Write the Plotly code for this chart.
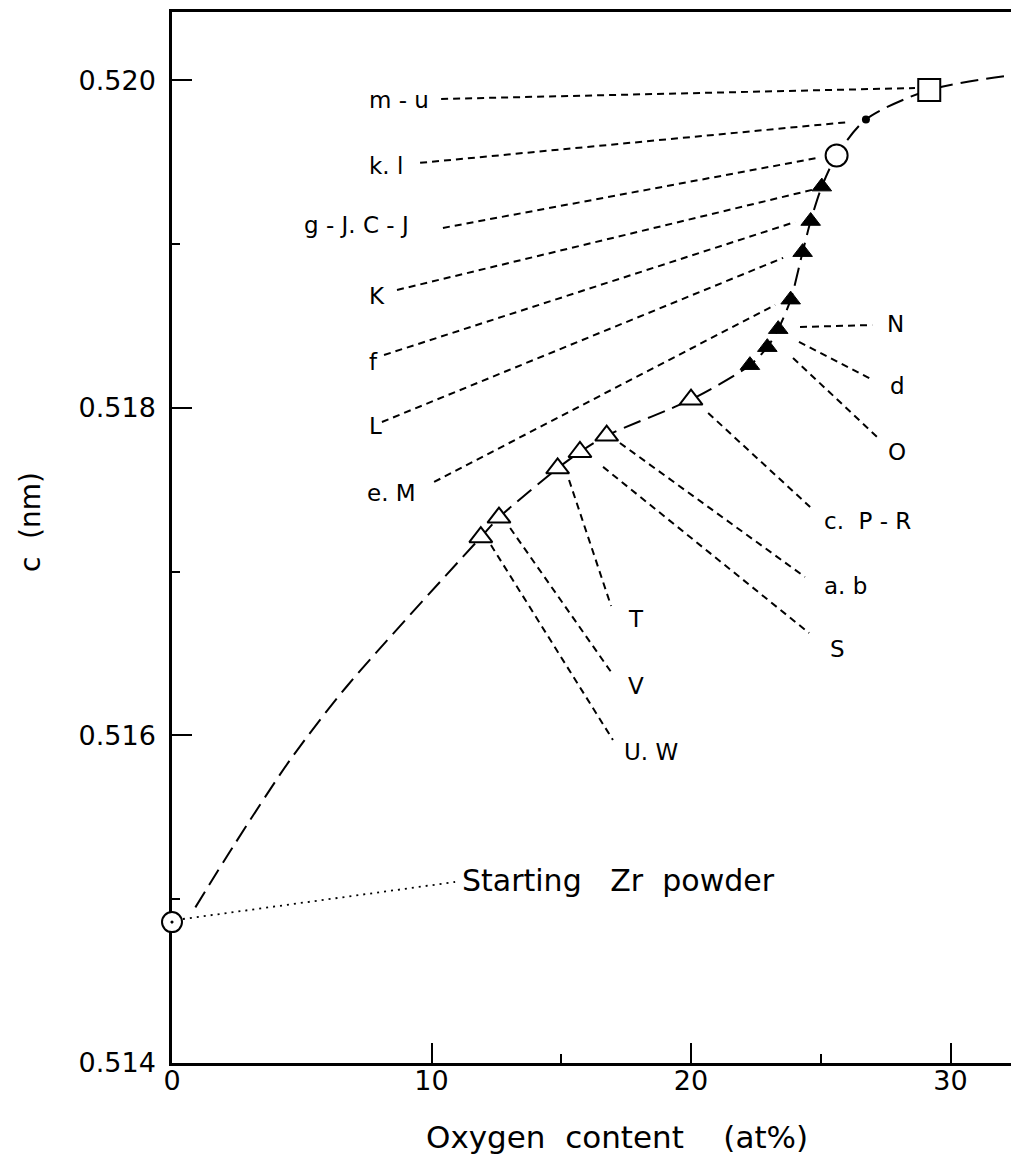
import plotly.graph_objects as go

# ---- data: oxygen content (at%) vs. lattice parameter c (nm) ----
start_x = [0.0]
start_c = [0.51486]

open_tri_x = [11.90, 12.60, 14.86, 15.72, 16.75, 20.00]
open_tri_c = [0.51721, 0.51733, 0.51763, 0.51773, 0.51783, 0.51805]

solid_tri_x = [22.27, 22.94, 23.36, 23.84, 24.30, 24.61, 25.04]
solid_tri_c = [0.51826, 0.51837, 0.51848, 0.51866, 0.51895, 0.51914, 0.51935]

ring_x = [25.61]
ring_c = [0.51954]

dot_x = [26.74]
dot_c = [0.51976]

square_x = [29.18]
square_c = [0.51994]

# extra points of the guide curve away from the markers
guide_head_x = [0.90, 2.35, 4.55, 6.74]
guide_head_c = [0.51495, 0.51532, 0.51585, 0.51630]
guide_tail_x = [32.33]
guide_tail_c = [0.52003]

x_tickvals = [0, 10, 20, 30]
x_ticktext = ["0", "10", "20", "30"]
c_tickvals = [0.514, 0.516, 0.518, 0.520]
c_ticktext = ["0.514", "0.516", "0.518", "0.520"]

# ---- label placement: text, leader start, leader end, text anchor ----
NB = "\u00a0"
labels = [
    ("m - u",                 (10.37, 0.519885), (28.63, 0.519952), (7.51, 0.519879), "left"),
    ("k. l",                  (9.56, 0.519495),  (26.13, 0.519745), (7.51, 0.519476), "left"),
    ("g - J. C - J",          (10.44, 0.519098), (24.86, 0.519525), (5.01, 0.519116), "left"),
    ("K",                     (8.67, 0.518719),  (24.66, 0.519330), (7.51, 0.518683), "left"),
    ("f",                     (8.17, 0.518322),  (24.01, 0.519134), (7.51, 0.518280), "left"),
    ("L",                     (8.09, 0.517913),  (23.55, 0.518915), (7.51, 0.517889), "left"),
    ("e. M",                  (10.10, 0.517547), (23.24, 0.518628), (7.44, 0.517480), "left"),
    ("N",                     (24.20, 0.518493), (26.98, 0.518505), (27.48, 0.518512), "left"),
    ("d",                     (24.16, 0.518402), (27.01, 0.518170), (27.59, 0.518133), "left"),
    ("O",                     (23.93, 0.518304), (27.17, 0.517822), (27.51, 0.517730), "left"),
    ("c." + NB + " P - R",    (20.66, 0.517968), (24.59, 0.517394), (25.05, 0.517309), "left"),
    ("a. b",                  (17.26, 0.517785), (24.39, 0.516967), (25.05, 0.516912), "left"),
    ("S",                     (16.61, 0.517639), (24.55, 0.516625), (25.28, 0.516527), "left"),
    ("T",                     (15.30, 0.517559), (16.92, 0.516790), (17.50, 0.516711), "left"),
    ("V",                     (13.03, 0.517266), (16.92, 0.516387), (17.50, 0.516302), "left"),
    ("U. W",                  (12.29, 0.517162), (16.99, 0.515972), (17.34, 0.515899), "left"),
]
start_label = "Starting" + NB * 3 + "Zr" + NB * 2 + "powder"
start_leader = ((0.42, 0.514879), (10.91, 0.515105))
start_text_pos = (11.10, 0.515117)

FONT = "DejaVu Sans"
INK = "black"

fig = go.Figure()

# guide curve through all measured points
pts = sorted(
    list(zip(guide_head_x, guide_head_c))
    + list(zip(open_tri_x, open_tri_c))
    + list(zip(solid_tri_x, solid_tri_c))
    + list(zip(ring_x, ring_c))
    + list(zip(dot_x, dot_c))
    + list(zip(square_x, square_c))
    + list(zip(guide_tail_x, guide_tail_c))
)
fig.add_trace(go.Scatter(
    x=[p[0] for p in pts], y=[p[1] for p in pts], mode="lines",
    line=dict(color=INK, width=2, dash="18px,8px", shape="spline", smoothing=0.8),
    hoverinfo="skip", showlegend=False, cliponaxis=False,
))

# leader lines from each point group to its sample label
lx, ly = [], []
for _, (x0, y0), (x1, y1), _, _ in labels:
    lx += [x0, x1, None]
    ly += [y0, y1, None]
fig.add_trace(go.Scatter(
    x=lx, y=ly, mode="lines",
    line=dict(color=INK, width=2, dash="7px,5px"),
    hoverinfo="skip", showlegend=False, cliponaxis=False,
))
fig.add_trace(go.Scatter(
    x=[start_leader[0][0], start_leader[1][0]],
    y=[start_leader[0][1], start_leader[1][1]],
    mode="lines", line=dict(color=INK, width=1.8, dash="2px,5px"),
    hoverinfo="skip", showlegend=False, cliponaxis=False,
))

# markers
def add_markers(xs, ys, symbol, size, fill, lw):
    fig.add_trace(go.Scatter(
        x=xs, y=ys, mode="markers",
        marker=dict(symbol=symbol, size=size, color=fill,
                    line=dict(color=INK, width=lw)),
        hoverinfo="skip", showlegend=False, cliponaxis=False,
    ))

add_markers(start_x, start_c, "circle-dot", 20, "white", 2)
add_markers(open_tri_x, open_tri_c, "triangle-up", 20, "white", 2)
add_markers(solid_tri_x, solid_tri_c, "triangle-up", 17, INK, 1)
add_markers(ring_x, ring_c, "circle", 22, "white", 2)
add_markers(dot_x, dot_c, "circle", 8, INK, 0)
add_markers(square_x, square_c, "square", 22, "white", 2)

# label texts
annotations = []
for text, _, _, (tx, ty), anchor in labels:
    annotations.append(dict(
        x=tx, y=ty, xref="x", yref="y", text=text, showarrow=False,
        xanchor=anchor, yanchor="middle",
        font=dict(family=FONT, size=23, color=INK),
    ))
annotations.append(dict(
    x=start_text_pos[0], y=start_text_pos[1], xref="x", yref="y",
    text=start_label, showarrow=False, xanchor="left", yanchor="middle",
    font=dict(family=FONT, size=30, color=INK),
))
# axis titles
annotations.append(dict(
    x=0.5304, y=-0.0704, xref="paper", yref="paper",
    text="Oxygen" + NB * 2 + "content" + NB * 4 + "(at%)", showarrow=False,
    xanchor="center", yanchor="middle",
    font=dict(family=FONT, size=31, color=INK),
))
annotations.append(dict(
    x=-0.1692, y=0.5147, xref="paper", yref="paper",
    text="c" + NB * 2 + "(nm)", showarrow=False, textangle=-90,
    xanchor="center", yanchor="middle",
    font=dict(family=FONT, size=28, color=INK),
))

fig.update_layout(
    width=1011, height=1168,
    margin=dict(l=172, r=0, t=12, b=105, pad=0),
    paper_bgcolor="white", plot_bgcolor="white",
    annotations=annotations,
    xaxis=dict(
        range=[0, 32.33], showgrid=False, zeroline=False,
        showline=True, linecolor=INK, linewidth=2.5, mirror=True,
        tickmode="array", tickvals=x_tickvals, ticktext=x_ticktext,
        ticks="inside", ticklen=20, tickwidth=2, tickcolor=INK,
        minor=dict(tickmode="array", tickvals=[15, 25], ticks="inside",
                   ticklen=9, tickwidth=2, tickcolor=INK),
        tickfont=dict(family=FONT, size=27, color=INK),
        ticklabelstandoff=-8,
        layer="below traces",
    ),
    yaxis=dict(
        range=[0.514, 0.520416], showgrid=False, zeroline=False,
        showline=True, linecolor=INK, linewidth=2.5,
        tickmode="array", tickvals=c_tickvals, ticktext=c_ticktext,
        ticks="inside", ticklen=20, tickwidth=2, tickcolor=INK,
        minor=dict(tickmode="array", tickvals=[0.515, 0.517, 0.519],
                   ticks="inside", ticklen=8, tickwidth=2, tickcolor=INK),
        tickfont=dict(family=FONT, size=27, color=INK),
        ticklabelstandoff=8,
        layer="below traces",
    ),
)

fig.write_html("out.html")
